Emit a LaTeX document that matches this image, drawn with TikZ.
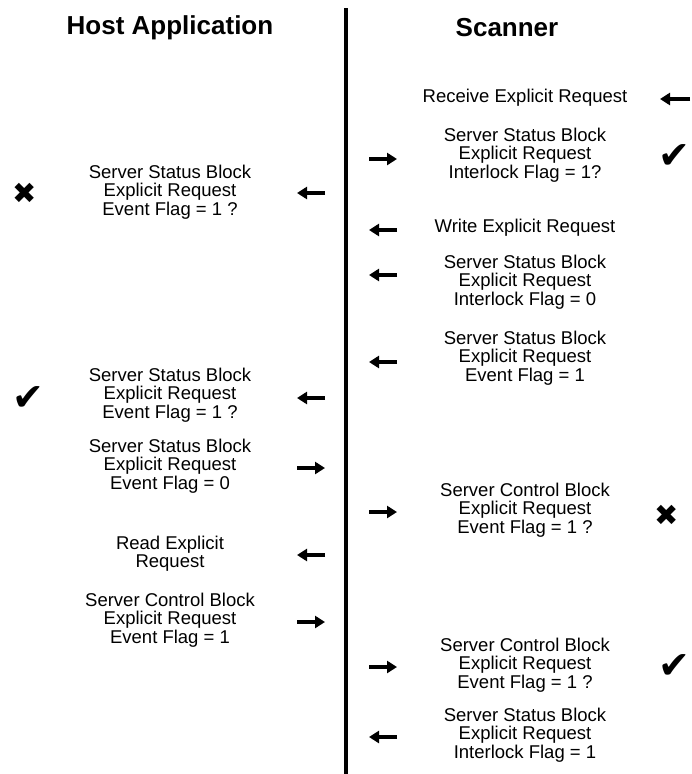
\documentclass[tikz,border=0pt]{standalone}
\usepackage{fontspec}
\setmainfont{Liberation Sans}
\newfontfamily\symfont{DejaVu Sans}
\usetikzlibrary{arrows.meta}

\begin{document}
\begin{tikzpicture}[x=1pt,y=-1pt,every node/.style={inner sep=0pt},
  msgtext/.style={align=center,font=\fontsize{18.5}{18.3}\selectfont},
  coltitle/.style={font=\fontsize{26}{30}\selectfont\bfseries},
  msg/.style={line width=4.2pt,-{Triangle[length=10pt,width=12pt]}},
  okmark/.style={font=\symfont\fontsize{38}{38}\selectfont},
  nomark/.style={font=\symfont\fontsize{29}{29}\selectfont}]
\useasboundingbox (0,0) rectangle (691,774);
% columns
\node[coltitle] (host) at (170,28) {Host Application};
\node[coltitle] (scan) at (507,28) {Scanner};
\coordinate (top) at (346,8);
\coordinate (bot) at (346,774);
\draw[line width=4.5pt] (top) -- (bot);
% host side
\node[msgtext] (h1) at (170,192) {Server Status Block\\Explicit Request\\Event Flag = 1 ?};
\node[msgtext] (h2) at (170,395) {Server Status Block\\Explicit Request\\Event Flag = 1 ?};
\node[msgtext] (h3) at (170,466) {Server Status Block\\Explicit Request\\Event Flag = 0};
\node[msgtext] (h4) at (170,554) {Read Explicit\\Request};
\node[msgtext] (h5) at (170,620) {Server Control Block\\Explicit Request\\Event Flag = 1};
\node[nomark] (x1) at (25,193) {✖};
\node[okmark] (c1) at (28,399) {✔};
% scanner side
\node[msgtext] (s1) at (525,98) {Receive Explicit Request};
\node[msgtext] (s2) at (525,155) {Server Status Block\\Explicit Request\\Interlock Flag = 1?};
\node[msgtext] (s3) at (525,228) {Write Explicit Request};
\node[msgtext] (s4) at (525,282) {Server Status Block\\Explicit Request\\Interlock Flag = 0};
\node[msgtext] (s5) at (525,358) {Server Status Block\\Explicit Request\\Event Flag = 1};
\node[msgtext] (s6) at (525,510) {Server Control Block\\Explicit Request\\Event Flag = 1 ?};
\node[msgtext] (s7) at (525,665) {Server Control Block\\Explicit Request\\Event Flag = 1 ?};
\node[msgtext] (s8) at (525,735) {Server Status Block\\Explicit Request\\Interlock Flag = 1};
\node[okmark] (c2) at (674,157) {✔};
\node[nomark] (x2) at (667,515) {✖};
\node[okmark] (c3) at (674,667) {✔};
% arrows
\foreach \y/\n in {193/ha1,398/ha2,555/ha4}{
  \coordinate (\n a) at (325,\y); \coordinate (\n b) at (297,\y);
  \draw[msg] (\n a) -- (\n b);}
\foreach \y/\n in {468/ha3,622/ha5}{
  \coordinate (\n a) at (297,\y); \coordinate (\n b) at (325,\y);
  \draw[msg] (\n a) -- (\n b);}
\foreach \y/\n in {230/sa3,275/sa4,362/sa5,737/sa8}{
  \coordinate (\n a) at (397,\y); \coordinate (\n b) at (369,\y);
  \draw[msg] (\n a) -- (\n b);}
\foreach \y/\n in {159/sa2,512/sa6,667/sa7}{
  \coordinate (\n a) at (369,\y); \coordinate (\n b) at (397,\y);
  \draw[msg] (\n a) -- (\n b);}
\coordinate (sa1a) at (690,99);
\coordinate (sa1b) at (660,99);
\draw[msg] (sa1a) -- (sa1b);
\end{tikzpicture}
\end{document}
